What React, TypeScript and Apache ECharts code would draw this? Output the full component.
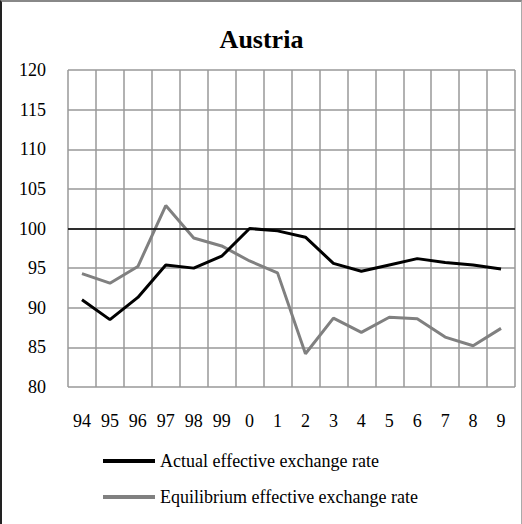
import React, { useEffect, useRef } from "react";
import * as echarts from "echarts";

const categories = ["94", "95", "96", "97", "98", "99", "0", "1", "2", "3", "4", "5", "6", "7", "8", "9"];
const actualRate = [91.0, 88.5, 91.3, 95.4, 95.0, 96.5, 100.0, 99.7, 98.9, 95.6, 94.6, 95.4, 96.2, 95.7, 95.4, 94.9];
const equilibriumRate = [94.3, 93.1, 95.2, 102.9, 98.8, 97.8, 95.9, 94.4, 84.2, 88.7, 86.9, 88.8, 88.6, 86.3, 85.2, 87.4];
const seriesNames = ["Actual effective exchange rate", "Equilibrium effective exchange rate"];
const titleText = "Austria";
const yMin = 80;
const yMax = 120;
const yStep = 5;
const referenceLevel = 100;

const FONT = "'Liberation Serif', 'Times New Roman', serif";

export default function App() {
  const ref = useRef<HTMLDivElement>(null);
  useEffect(() => {
    if (!ref.current) return;
    const chart = echarts.init(ref.current, null, { renderer: "svg" });
    chart.setOption({
      animation: false,
      backgroundColor: "#ffffff",
      title: {
        text: titleText,
        left: "center",
        top: 19,
        textStyle: { fontFamily: FONT, fontSize: 26, fontWeight: "bold", color: "#000" },
      },
      grid: { left: 66, right: 6, top: 68, bottom: 137, containLabel: false },
      xAxis: {
        type: "category",
        data: categories,
        boundaryGap: true,
        axisLine: { show: false },
        axisTick: { show: false },
        axisLabel: { fontFamily: FONT, fontSize: 18, color: "#000", margin: 25, interval: 0 },
        splitLine: { show: true, lineStyle: { color: "#999", width: 1.5 } },
      },
      yAxis: {
        type: "value",
        min: yMin,
        max: yMax,
        interval: yStep,
        axisLine: { show: false },
        axisTick: { show: false },
        axisLabel: { fontFamily: FONT, fontSize: 18, color: "#000", margin: 22 },
        splitLine: { show: true, lineStyle: { color: "#999", width: 1.5 } },
      },
      legend: {
        orient: "vertical",
        left: 101,
        top: 450,
        padding: 0,
        icon: "rect",
        itemWidth: 52,
        itemHeight: 4,
        itemGap: 18,
        textStyle: { fontFamily: FONT, fontSize: 18, color: "#000" },
        data: seriesNames,
      },
      series: [
        {
          name: seriesNames[0],
          type: "line",
          data: actualRate,
          symbol: "none",
          lineStyle: { color: "#000", width: 3 },
          itemStyle: { color: "#000" },
          z: 3,
          markLine: {
            silent: true,
            symbol: "none",
            label: { show: false },
            lineStyle: { color: "#000", width: 1.5, type: "solid" },
            data: [{ yAxis: referenceLevel }],
          },
        },
        {
          name: seriesNames[1],
          type: "line",
          data: equilibriumRate,
          symbol: "none",
          lineStyle: { color: "#808080", width: 3 },
          itemStyle: { color: "#808080" },
          z: 2,
        },
      ],
    });
    return () => chart.dispose();
  }, []);
  return (
    <div
      style={{
        position: "fixed",
        left: 0,
        top: 0,
        width: 522,
        height: 524,
        boxSizing: "border-box",
        borderTop: "2px solid #888",
        borderLeft: "2px solid #222",
        borderRight: "1px solid #aaa",
        background: "#fff",
      }}
    >
      <div ref={ref} style={{ width: 519, height: 522 }} />
    </div>
  );
}
